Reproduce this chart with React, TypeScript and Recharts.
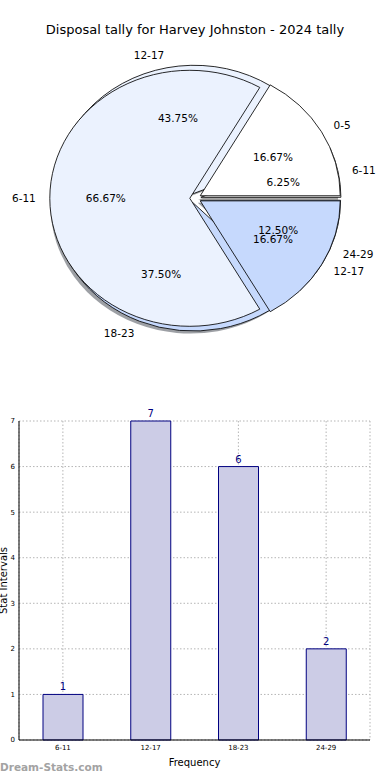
import React from "react";
import {
  Bar,
  BarChart,
  CartesianGrid,
  Cell,
  Label,
  LabelList,
  Pie,
  PieChart,
  XAxis,
  YAxis,
} from "recharts";

// tally of 16 games by disposal bin (also used for the bars)
const tallyBins = ["6-11", "12-17", "18-23", "24-29"];
const tallyCounts = [1, 7, 6, 2];
// second ring drawn on top
const topBins = ["0-5", "6-11", "12-17"];
const topCounts = [1, 4, 1];
const sliceColors = ["#ffffff", "#ebf2fe", "#c6d9fd", "#a9c4f5"];
const yTicks = [0, 1, 2, 3, 4, 5, 6, 7];

const FONT = "'DejaVu Sans', sans-serif";
const CX = 195.4;
const CY = 198.3;
const RX = 140;
const RY = 128;
const SX = RX / RY;
const EXPLODE = 0.04;

const tallyData = tallyBins.map((name, i) => ({ name, value: tallyCounts[i] }));
const topData = topBins.map((name, i) => ({ name, value: topCounts[i] }));
const barData = tallyBins.map((bin, i) => ({ bin, count: tallyCounts[i] }));

function midAngles(values: number[]) {
  const total = values.reduce((a, b) => a + b, 0);
  let cum = 0;
  return values.map((v) => {
    const m = ((cum + v / 2) / total) * 360;
    cum += v;
    return m;
  });
}

// stretch circle into the ellipse matplotlib drew, and push each wedge out
function sliceStyle(mid: number, sdx = 0, sdy = 0): React.CSSProperties {
  const r = (mid * Math.PI) / 180;
  const dx = EXPLODE * RY * Math.cos(r) + sdx;
  const dy = -EXPLODE * RY * Math.sin(r) + sdy;
  return {
    transformBox: "view-box",
    transformOrigin: "0 0",
    transform: `translate(${CX}px, ${CY}px) scale(${SX}, 1) translate(${-CX + dx}px, ${-CY + dy}px)`,
  } as React.CSSProperties;
}

function shadowOf(hex: string) {
  const n = parseInt(hex.slice(1), 16);
  const r = Math.round(((n >> 16) & 255) * 0.3);
  const g = Math.round(((n >> 8) & 255) * 0.3);
  const b = Math.round((n & 255) * 0.3);
  return `rgb(${r},${g},${b})`;
}

const renderPieLabel = (props: any) => {
  const { midAngle, percent, name } = props;
  const r = (midAngle * Math.PI) / 180;
  const c = Math.cos(r);
  const s = Math.sin(r);
  const ox = CX + EXPLODE * RX * c;
  const oy = CY - EXPLODE * RY * s;
  const common = { fontFamily: FONT, fontSize: 10.5, fill: "#000", dominantBaseline: "central" as const };
  return (
    <g>
      <text x={ox + 1.1 * RX * c} y={oy - 1.1 * RY * s} textAnchor={c > 0 ? "start" : "end"} {...common}>
        {name}
      </text>
      <text x={ox + 0.6 * RX * c} y={oy - 0.6 * RY * s} textAnchor="middle" {...common}>
        {(percent * 100).toFixed(2)}%
      </text>
    </g>
  );
};

const tallyMids = midAngles(tallyCounts);
const topMids = midAngles(topCounts);

export default function App() {
  return (
    <div
      style={{
        position: "absolute",
        left: 0,
        top: 0,
        width: 390,
        height: 780,
        background: "#fff",
        overflow: "hidden",
        fontFamily: FONT,
      }}
    >
      <div
        style={{
          position: "absolute",
          top: 22,
          left: 0,
          width: 390,
          textAlign: "center",
          fontSize: 13,
          color: "#000",
        }}
      >
        Disposal tally for Harvey Johnston - 2024 tally
      </div>

      <div style={{ position: "absolute", top: 0, left: 0 }}>
        <PieChart width={390} height={360} margin={{ top: 0, right: 0, bottom: 0, left: 0 }}>
          {/* shadow of the lower ring */}
          <Pie
            data={tallyData}
            dataKey="value"
            cx={CX}
            cy={CY}
            outerRadius={RY}
            stroke="none"
            isAnimationActive={false}
          >
            {tallyData.map((d, i) => (
              <Cell
                key={d.name}
                fill={shadowOf(sliceColors[i % sliceColors.length])}
                fillOpacity={0.5}
                style={sliceStyle(tallyMids[i], -0.02 * RY, 0.02 * RY)}
              />
            ))}
          </Pie>
          <Pie
            data={tallyData}
            dataKey="value"
            cx={CX}
            cy={CY}
            outerRadius={RY}
            stroke="#000"
            strokeWidth={0.8}
            isAnimationActive={false}
          >
            {tallyData.map((d, i) => (
              <Cell key={d.name} fill={sliceColors[i % sliceColors.length]} style={sliceStyle(tallyMids[i])} />
            ))}
          </Pie>
          <Pie
            data={topData}
            dataKey="value"
            cx={CX}
            cy={CY}
            outerRadius={RY}
            stroke="#000"
            strokeWidth={0.8}
            isAnimationActive={false}
          >
            {topData.map((d, i) => (
              <Cell key={d.name} fill={sliceColors[i % sliceColors.length]} style={sliceStyle(topMids[i])} />
            ))}
          </Pie>
          {/* text goes above every wedge */}
          <Pie
            data={tallyData}
            dataKey="value"
            cx={CX}
            cy={CY}
            outerRadius={RY}
            fill="none"
            stroke="none"
            label={renderPieLabel}
            labelLine={false}
            isAnimationActive={false}
          />
          <Pie
            data={topData}
            dataKey="value"
            cx={CX}
            cy={CY}
            outerRadius={RY}
            fill="none"
            stroke="none"
            label={renderPieLabel}
            labelLine={false}
            isAnimationActive={false}
          />
        </PieChart>
      </div>

      <div style={{ position: "absolute", top: 400, left: 0 }}>
        <BarChart
          width={390}
          height={380}
          data={barData}
          margin={{ top: 21, right: 20, left: 0, bottom: 0 }}
          barSize={40}
        >
          <CartesianGrid stroke="#b5b5b5" strokeDasharray="1.5 2" />
          <XAxis
            dataKey="bin"
            height={40}
            interval={0}
            tickLine={false}
            tickSize={2}
            tickMargin={3}
            axisLine={{ stroke: "#000" }}
            tick={{ fontSize: 7, fill: "#000", fontFamily: FONT }}
          >
            <Label value="Frequency" position="insideBottom" offset={14} fontSize={10} fill="#000" fontFamily={FONT} />
          </XAxis>
          <XAxis
            xAxisId="top"
            dataKey="bin"
            orientation="top"
            height={0}
            tick={false}
            tickLine={false}
            axisLine={{ stroke: "#000" }}
          />
          <YAxis
            domain={[0, 7]}
            ticks={yTicks}
            interval={0}
            width={19}
            tickLine={false}
            tickSize={2}
            tickMargin={2}
            axisLine={{ stroke: "#000" }}
            tick={{ fontSize: 7, fill: "#000", fontFamily: FONT }}
          >
            <Label
              content={(p: any) => {
                const vb = p.viewBox || { x: 0, y: 21, width: 19, height: 319 };
                const x = vb.x + 3;
                const y = vb.y + vb.height / 2;
                return (
                  <text
                    x={x}
                    y={y}
                    transform={`rotate(-90 ${x} ${y})`}
                    textAnchor="middle"
                    dominantBaseline="central"
                    fontSize={10}
                    fontFamily={FONT}
                    fill="#000"
                  >
                    Stat Intervals
                  </text>
                );
              }}
            />
          </YAxis>
          <YAxis
            yAxisId="right"
            orientation="right"
            domain={[0, 7]}
            width={0}
            tick={false}
            tickLine={false}
            axisLine={{ stroke: "#000" }}
          />
          <Bar dataKey="count" fill="#ccccE6" stroke="#000080" strokeWidth={1} isAnimationActive={false}>
            <LabelList dataKey="count" position="top" offset={4} fill="#000080" fontSize={10} fontFamily={FONT} />
          </Bar>
        </BarChart>
      </div>

      <div
        style={{
          position: "absolute",
          top: 761,
          left: 0,
          fontSize: 10.5,
          fontWeight: "bold",
          color: "#a3a3a3",
        }}
      >
        Dream-Stats.com
      </div>
    </div>
  );
}
